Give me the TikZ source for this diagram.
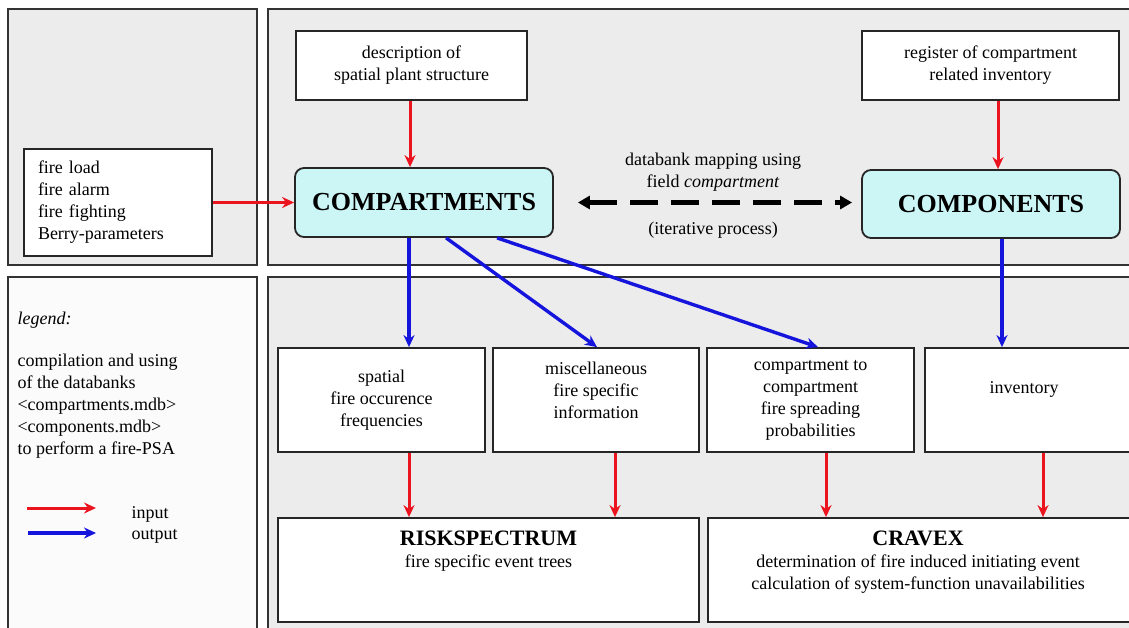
\documentclass[tikz,border=0pt]{standalone}
\usepackage{fontspec}
\setmainfont{Liberation Serif}
\usetikzlibrary{arrows.meta}
\definecolor{panelgray}{RGB}{236,236,236}
\definecolor{dbcyan}{RGB}{204,246,246}
\definecolor{inred}{RGB}{235,20,30}
\definecolor{outblue}{RGB}{20,20,220}

\begin{document}
\begin{tikzpicture}[
            x = 1pt, y = -1pt, % one unit = one pixel of the sketch
            > = {Stealth[length=12pt,width=11pt]}, % arrow head style
            font = \fontsize{18}{22}\selectfont,
            panel/.style = {draw=black!80, line width=2pt, fill=panelgray},
            box/.style = {draw=black!85, line width=1.8pt, fill=white, inner sep=0pt, align=center},
            dbbox/.style = {box, fill=dbcyan, rounded corners=9pt, font=\fontsize{26}{28}\selectfont\bfseries},
            note/.style = {align=center},
            input/.style = {->, draw=inred, line width=3pt},
            output/.style = {->, draw=outblue, line width=3.4pt},
            mapping/.style = {{Triangle[length=12pt,width=13pt]}-{Triangle[length=12pt,width=13pt]}, line width=5pt, dash pattern=on 28pt off 13pt}
        ]
\useasboundingbox (0,0) rectangle (1129,627);

% panels
\draw[panel] (8,9) rectangle (257,265);
\draw[panel] (268,9) rectangle (1140,265);
\draw[panel, fill=white!97!gray] (8,277) rectangle (257,640);
\draw[panel] (268,277) rectangle (1140,640);

% top row
\node[box, minimum width=231, minimum height=69] (desc) at (411.5,65.5) {description of\\spatial plant structure};
\node[box, minimum width=257, minimum height=69] (reg) at (990.5,65.5) {register of compartment\\related inventory};
\node[box, minimum width=188, minimum height=107, align=left, text width=160] (load) at (118,202.5) {fire load\\fire alarm\\fire fighting\\Berry-parameters};
\node[dbbox, minimum width=258, minimum height=69] (comps) at (424,202.5) {COMPARTMENTS};
\node[dbbox, minimum width=258, minimum height=68] (compo) at (991,204) {COMPONENTS};

\node[note] (maplbl) at (713,172) {databank mapping using\\field \textit{compartment}};
\node[note] (iterlbl) at (713,230) {(iterative process)};

% middle row
\node[box, minimum width=207, minimum height=104] (spatial) at (381.5,400) {spatial\\fire occurence\\frequencies};
\node[box, minimum width=206, minimum height=104] (misc) at (596,400) {};
\node[note] (misctxt) at (596,390) {miscellaneous\\fire specific\\information};
\node[box, minimum width=207, minimum height=104] (c2c) at (810.5,400) {compartment to\\compartment\\fire spreading\\probabilities};
\node[box, minimum width=210, minimum height=104] (inv) at (1030,400) {};
\node[note] (invtxt) at (1024,389) {inventory};

% bottom row
\node[box, minimum width=421, minimum height=104] (rs) at (488.5,570) {};
\node[note] (rstxt) at (488.5,551) {{\fontsize{22}{24}\selectfont\bfseries RISKSPECTRUM}\\fire specific event trees};
\node[box, minimum width=425, minimum height=104] (cravex) at (920.5,570) {};
\node[note] (cravextxt) at (918,562) {{\fontsize{22}{24}\selectfont\bfseries CRAVEX}\\determination of fire induced initiating event\\calculation of system-function unavailabilities};

% legend
\node[anchor=west, font=\fontsize{18}{22}\selectfont\itshape] (legend) at (14,320) {legend:};
\node[anchor=north west, align=left] (legendtxt) at (14,350) {compilation and using\\of the databanks\\<compartments.mdb>\\<components.mdb>\\to perform a fire-PSA};
\coordinate (inA) at (27,508);
\coordinate (inB) at (96,508);
\coordinate (outA) at (28,533);
\coordinate (outB) at (96,533);
\node[anchor=west] (inlbl) at (128,514) {input};
\node[anchor=west] (outlbl) at (128,536) {output};

 \draw [input] (inA) -- (inB);
 \draw [output] (outA) -- (outB);

% connectors
 \draw [input] (load) -- (comps);
 \draw [input] ([xshift=-1.5pt]desc.south) -- ([xshift=-1.5pt]desc.south |- comps.north);
 \draw [input] ([xshift=7.5pt]reg.south) -- ([xshift=7.5pt]reg.south |- compo.north);
 \draw [mapping, shorten <=24pt, shorten >=9pt] (comps.east) -- (comps.east -| compo.west);

 \draw [output] ([xshift=27.5pt]spatial.north |- comps.south) -- ([xshift=27.5pt]spatial.north);
 \draw [output] ([xshift=152pt]comps.south west) -- ([xshift=1pt]misc.north);
 \draw [output] ([xshift=203pt]comps.south west) -- ([xshift=7.5pt]c2c.north);
 \draw [output] ([xshift=11pt]compo.south) -- ([xshift=11pt]compo.south |- inv.north);

 \draw [input] ([xshift=27.5pt]spatial.south) -- ([xshift=27.5pt]spatial.south |- rs.north);
 \draw [input] ([xshift=19pt]misc.south) -- ([xshift=19pt]misc.south |- rs.north);
 \draw [input] ([xshift=15.5pt]c2c.south) -- ([xshift=15.5pt]c2c.south |- cravex.north);
 \draw [input] ([xshift=13pt]inv.south) -- ([xshift=13pt]inv.south |- cravex.north);
\end{tikzpicture}
\end{document}
